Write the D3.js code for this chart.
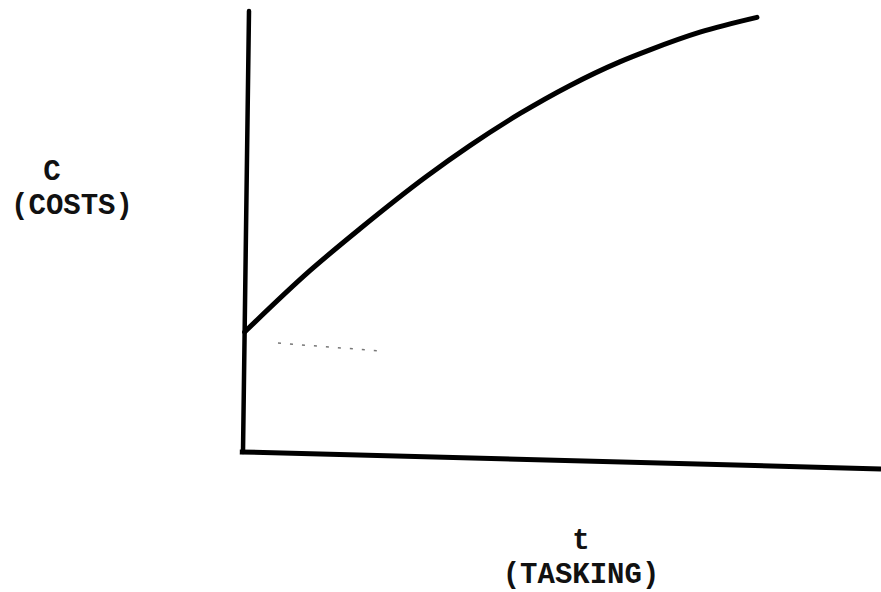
<!DOCTYPE html>
<html>
<head>
<meta charset="utf-8">
<script src="https://cdn.jsdelivr.net/npm/d3@7"></script>
<style>
  html, body { margin: 0; padding: 0; background: #fff; }
  svg { display: block; }
  .lbl { font-family: "Liberation Mono", "DejaVu Sans Mono", monospace; font-weight: bold; fill: #111; }
</style>
</head>
<body>
<svg id="chart" width="881" height="592"></svg>
<script>
// Data: time (tasking) vs costs, arbitrary units 0..100
const tValues = [0, 10.1, 17.85, 28.2, 34.9, 42.7, 50.4, 58.2, 62.9, 70.7, 79.6];
const costValues = [27.2, 41.5, 51.3, 63.6, 70.8, 78.4, 85.0, 90.7, 93.6, 97.9, 101.6];
const xDomain = [0, 100];
const yDomain = [0, 100];
const yLabelLines = ["C", "(COSTS)"];
const xLabelLines = ["t", "(TASKING)"];
// faint scan reference mark (dashed), in data units
const refT = [5.25, 21.7];
const refC = [24.9, 23.7];

const svg = d3.select("#chart");

const x = d3.scaleLinear().domain(xDomain).range([0, 638]);
const y = d3.scaleLinear().domain(yDomain).range([0, -441]);

// slightly skewed frame like the hand-drawn original
const g = svg.append("g")
  .attr("transform", "matrix(1,0.0265,-0.0136,1,243,452)");

// axes
g.append("line")
  .attr("x1", x(0)).attr("y1", y(0))
  .attr("x2", x(0)).attr("y2", y(100))
  .attr("stroke", "#000").attr("stroke-width", 4.5).attr("stroke-linecap", "round");
g.append("line")
  .attr("x1", x(-0.5)).attr("y1", y(0))
  .attr("x2", x(100)).attr("y2", y(0))
  .attr("stroke", "#000").attr("stroke-width", 5).attr("stroke-linecap", "butt");

// faint dashed mark
g.append("line")
  .attr("x1", x(refT[0])).attr("y1", y(refC[0]))
  .attr("x2", x(refT[1])).attr("y2", y(refC[1]))
  .attr("stroke", "#777").attr("stroke-width", 1.5)
  .attr("stroke-dasharray", "3,9");

// curve
const pts = tValues.map((t, i) => [t, costValues[i]]);
const line = d3.line()
  .x(d => x(d[0]))
  .y(d => y(d[1]))
  .curve(d3.curveMonotoneX);
g.append("path")
  .datum(pts)
  .attr("d", line)
  .attr("fill", "none")
  .attr("stroke", "#000")
  .attr("stroke-width", 5)
  .attr("stroke-linecap", "round");

// labels (two-line, wrapped in one text element each)
function twoLine(cx0, cx1, y0, dy, lines) {
  const t = svg.append("text").attr("class", "lbl")
    .attr("font-size", 29).attr("text-anchor", "middle");
  t.append("tspan").attr("x", cx0).attr("y", y0).text(lines[0]);
  t.append("tspan").attr("x", cx1).attr("y", y0 + dy).text(lines[1]);
}
twoLine(52, 72, 180, 34, yLabelLines);
twoLine(581, 581, 549, 34, xLabelLines);
</script>
</body>
</html>
